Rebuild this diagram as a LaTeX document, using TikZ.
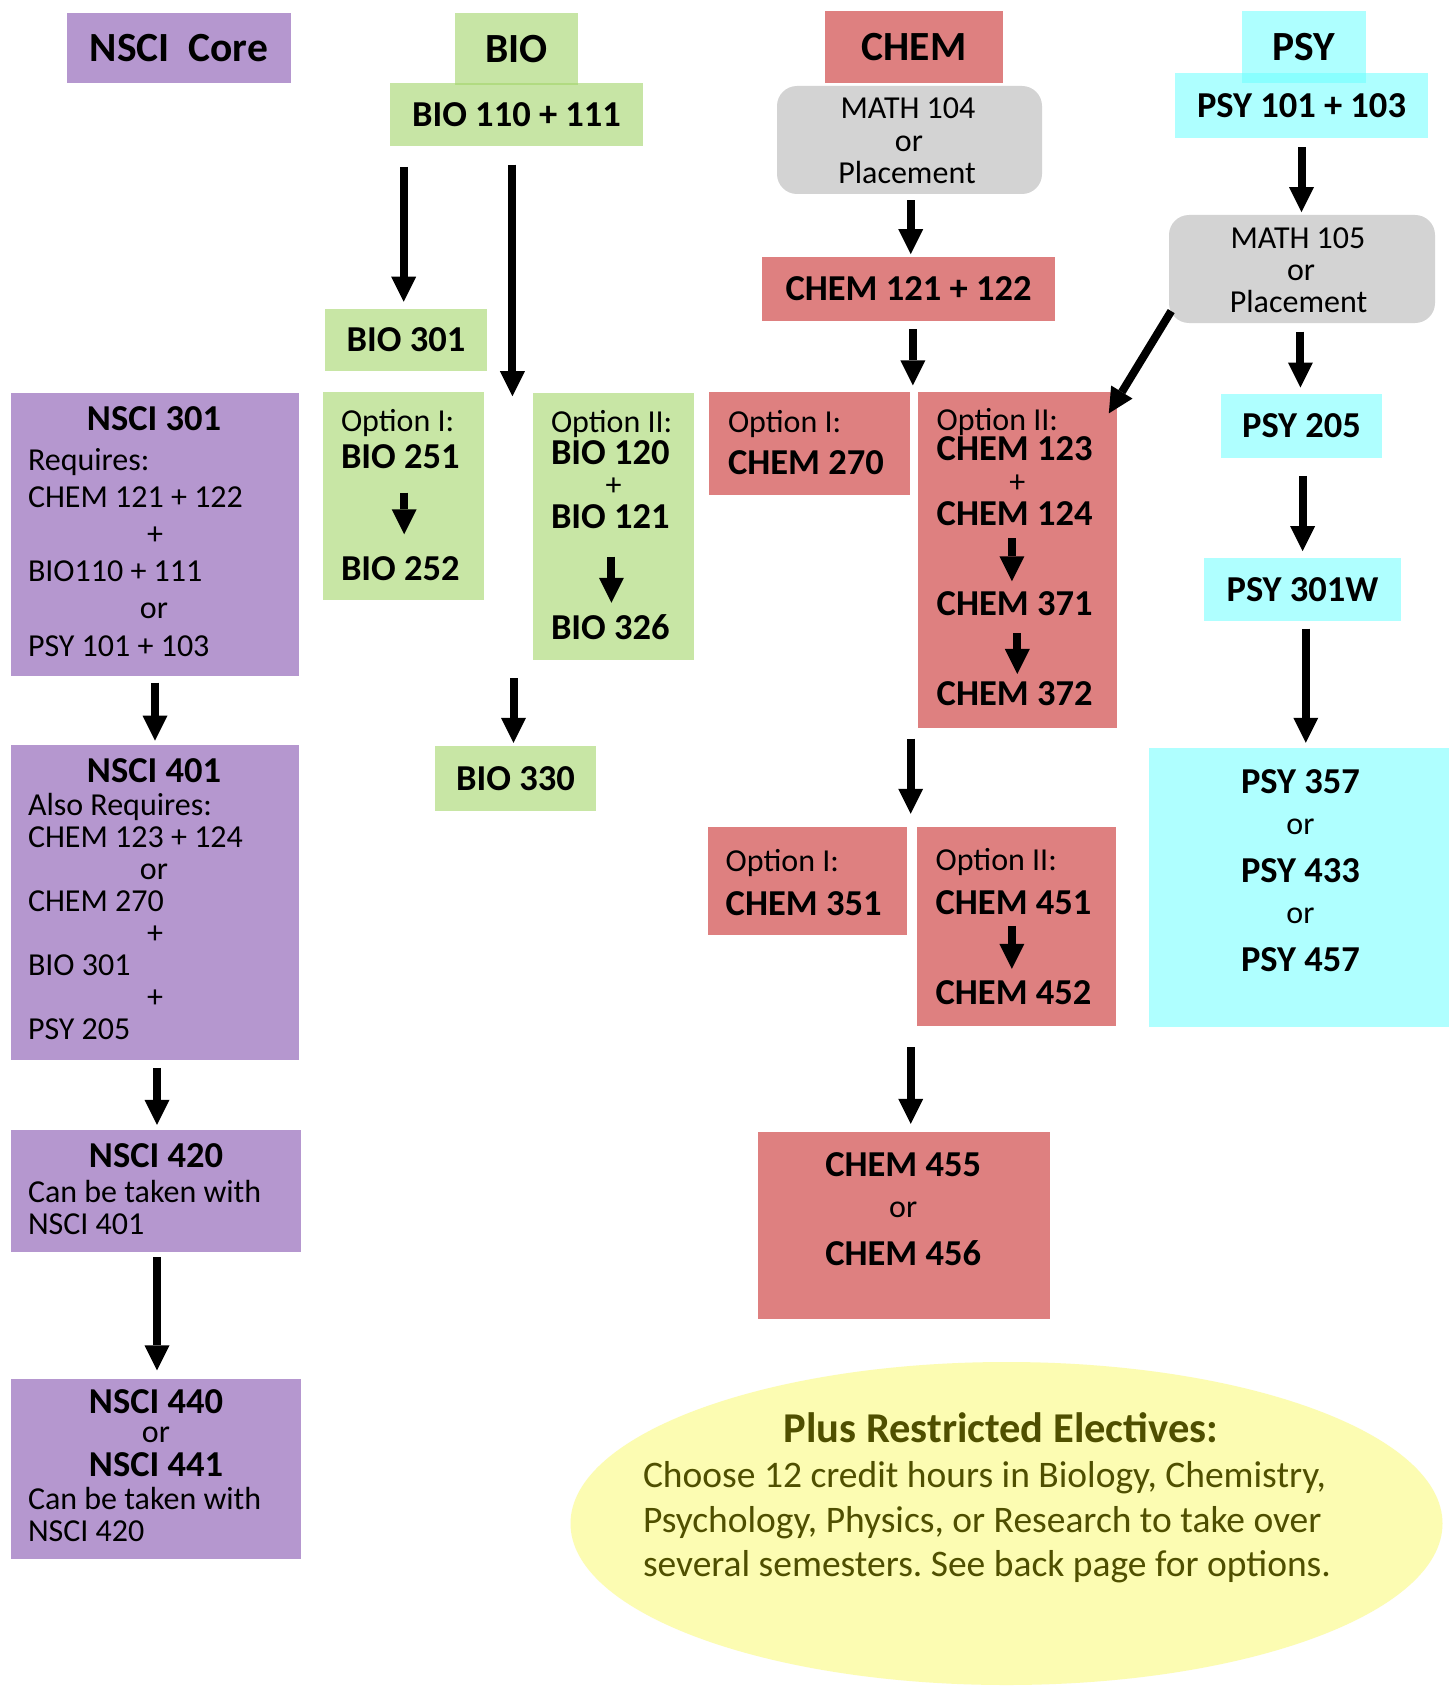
\documentclass[tikz,border=0pt]{standalone}
\usepackage{fontspec}
\setmainfont{Carlito}
\frenchspacing
\usetikzlibrary{arrows.meta,shapes.geometric}
\definecolor{nscicol}{RGB}{181,151,207}
\definecolor{biocol}{RGB}{200,230,165}
\definecolor{biobase}{RGB}{163,213,105}
\definecolor{chemcol}{RGB}{222,128,128}
\definecolor{psycol}{RGB}{175,255,255}
\definecolor{psybase}{RGB}{107,255,255}
\definecolor{mathgray}{RGB}{211,211,211}
\definecolor{ellicol}{RGB}{252,252,178}
\definecolor{olivetext}{RGB}{79,79,0}
\tikzset{
 box/.style={rectangle, inner sep=0pt, outer sep=0pt, anchor=north west},
 tb/.style={inner sep=0pt, outer sep=0pt, font=\fontsize{36.5}{40}\selectfont\bfseries},
 tr/.style={inner sep=0pt, outer sep=0pt, font=\fontsize{32}{36}\selectfont},
 th/.style={inner sep=0pt, outer sep=0pt, font=\fontsize{41.5}{45}\selectfont\bfseries},
 te/.style={inner sep=0pt, outer sep=0pt, text=olivetext, font=\fontsize{37.5}{41}\selectfont},
 lft/.style={anchor=base west},
 ctr/.style={anchor=base},
 arr/.style={line width=8pt, -{Triangle[width=25pt,length=25pt,line width=0pt]}},
}
\begin{document}
\begin{tikzpicture}[x=1pt,y=-1pt]
\fill[white] (0,0) rectangle (1449,1688);
\useasboundingbox (0,0) rectangle (1449,1688);

% ---------------- NSCI column ----------------
\node[box, fill=nscicol, minimum width=224pt, minimum height=70pt, th] (ncore) at (67,13) {NSCI~~Core};
\node[box, fill=nscicol, minimum width=288pt, minimum height=283pt] (n301) at (11,393) {};
\node[box, fill=nscicol, minimum width=288pt, minimum height=315pt] (n401) at (11,745) {};
\node[box, fill=nscicol, minimum width=290pt, minimum height=122pt] (n420) at (11,1130) {};
\node[box, fill=nscicol, minimum width=290pt, minimum height=180pt] (n440) at (11,1379) {};

\node[tb, ctr] (t301a) at (154,430.4) {NSCI 301};
\node[tr, lft] (t301b) at (28,470) {Requires:};
\node[tr, lft] (t301c) at (28,507.3) {CHEM 121 + 122};
\node[tr, ctr] (t301d) at (155,544.6) {+};
\node[tr, lft] (t301e) at (28,581.9) {BIO110 + 111};
\node[tr, ctr] (t301f) at (154,618) {or};
\node[tr, lft] (t301g) at (28,656.5) {PSY 101 + 103};

\node[tb, ctr] (t401a) at (154,782.4) {NSCI 401};
\node[tr, lft] (t401b) at (28,815.5) {Also Requires:};
\node[tr, lft] (t401c) at (28,847.5) {CHEM 123 + 124};
\node[tr, ctr] (t401d) at (154,879) {or};
\node[tr, lft] (t401e) at (28,911.5) {CHEM 270};
\node[tr, ctr] (t401f) at (155,943.5) {+};
\node[tr, lft] (t401g) at (28,975.5) {BIO 301};
\node[tr, ctr] (t401h) at (155,1007.5) {+};
\node[tr, lft] (t401i) at (28,1039.5) {PSY 205};

\node[tb, ctr] (t420a) at (156,1167.8) {NSCI 420};
\node[tr, lft] (t420b) at (28,1202) {Can be taken with};
\node[tr, lft] (t420c) at (28,1234.3) {NSCI 401};

\node[tb, ctr] (t440a) at (156,1413.2) {NSCI 440};
\node[tr, ctr] (t440b) at (156,1442.5) {or};
\node[tb, ctr] (t440c) at (156,1476.7) {NSCI 441};
\node[tr, lft] (t440d) at (28,1509.9) {Can be taken with};
\node[tr, lft] (t440e) at (28,1541.1) {NSCI 420};

% ---------------- BIO column ----------------
\node[box, fill=biobase, fill opacity=0.6, text opacity=1, minimum width=123pt, minimum height=72pt, th] (biohead) at (455,13) {BIO};
\node[box, fill=biobase, fill opacity=0.6, text opacity=1, minimum width=253pt, minimum height=63pt, tb] (bio110) at (390,83) {BIO 110 + 111};
\node[box, fill=biocol, minimum width=162pt, minimum height=62pt, tb] (bio301) at (325,309) {BIO 301};
\node[box, fill=biocol, minimum width=161pt, minimum height=208pt] (bioopt1) at (323,392) {};
\node[box, fill=biocol, minimum width=161pt, minimum height=267pt] (bioopt2) at (533,393) {};
\node[box, fill=biocol, minimum width=161pt, minimum height=65pt, tb] (bio330) at (435,746) {BIO 330};

\node[tr, lft] (bo1a) at (341,431.2) {Option I:};
\node[tb, lft] (b251) at (341,468) {BIO 251};
\node[tb, lft] (b252) at (341,580) {BIO 252};
\node[tr, lft] (bo2a) at (551,432.3) {Option II:};
\node[tb, lft] (b120) at (551,464.8) {BIO 120};
\node[tr, ctr] (bplus) at (613.6,495.5) {+};
\node[tb, lft] (b121) at (551,528.3) {BIO 121};
\node[tb, lft] (b326) at (551,639.2) {BIO 326};

% ---------------- CHEM column ----------------
\node[box, fill=chemcol, minimum width=178pt, minimum height=72pt, th] (chemhead) at (825,11) {CHEM};
\node[box, fill=mathgray, rounded corners=20pt, minimum width=265pt, minimum height=108pt] (math104) at (777,86) {};
\node[tr, ctr] (m104a) at (908,119) {MATH 104};
\node[tr, ctr] (m104b) at (909,151.3) {or};
\node[tr, ctr] (m104c) at (907,183.6) {Placement};
\node[box, fill=chemcol, minimum width=293pt, minimum height=64pt, tb] (chem121) at (762,257) {CHEM 121 + 122};
\node[box, fill=chemcol, minimum width=201pt, minimum height=103pt] (chemopt1) at (709,392) {};
\node[box, fill=chemcol, minimum width=199pt, minimum height=336pt] (chemopt2) at (918,392) {};
\node[box, fill=chemcol, minimum width=199pt, minimum height=108pt] (chem351) at (708,827) {};
\node[box, fill=chemcol, minimum width=199pt, minimum height=199pt] (chem451) at (917,827) {};
\node[box, fill=chemcol, minimum width=292pt, minimum height=187pt] (chem455) at (758,1132) {};

\node[tr, lft] (co1a) at (728,432.3) {Option I:};
\node[tb, lft] (c270) at (728,474.5) {CHEM 270};
\node[tr, lft] (co2a) at (936.7,430.1) {Option II:};
\node[tb, lft] (c123) at (936.7,460.5) {CHEM 123};
\node[tr, ctr] (cplus) at (1017.3,492.3) {+};
\node[tb, lft] (c124) at (936.7,525.1) {CHEM 124};
\node[tb, lft] (c371) at (936.7,615.5) {CHEM 371};
\node[tb, lft] (c372) at (936.7,705.9) {CHEM 372};
\node[tr, lft] (co3a) at (725.7,871.5) {Option I:};
\node[tb, lft] (c351) at (725.7,915.9) {CHEM 351};
\node[tr, lft] (co4a) at (935.6,870.4) {Option II:};
\node[tb, lft] (c451) at (935.6,914.8) {CHEM 451};
\node[tb, lft] (c452) at (935.6,1004.1) {CHEM 452};
\node[tb, ctr] (c455) at (903.2,1176.4) {CHEM 455};
\node[tr, ctr] (c455or) at (903.2,1217.5) {or};
\node[tb, ctr] (c456) at (903.2,1265.7) {CHEM 456};

% ---------------- PSY column ----------------
\node[box, fill=psybase, fill opacity=0.54, text opacity=1, minimum width=124pt, minimum height=72pt, th] (psyhead) at (1242,11) {PSY};
\node[box, fill=psybase, fill opacity=0.54, text opacity=1, minimum width=253pt, minimum height=65pt, tb] (psy101) at (1175,73) {PSY 101 + 103};
\node[box, fill=mathgray, rounded corners=20pt, minimum width=266pt, minimum height=108pt] (math105) at (1169,215) {};
\node[tr, ctr] (m105a) at (1298,248.2) {MATH 105};
\node[tr, ctr] (m105b) at (1301,280.5) {or};
\node[tr, ctr] (m105c) at (1298.5,312.8) {Placement};
\node[box, fill=psycol, minimum width=161pt, minimum height=64pt, tb] (psy205) at (1221,394) {PSY 205};
\node[box, fill=psycol, minimum width=197pt, minimum height=63pt, tb] (psy301w) at (1204,558) {PSY 301W};
\node[box, fill=psycol, minimum width=300pt, minimum height=279pt] (psy357) at (1149,748) {};
\node[tb, ctr] (p357) at (1300.4,793.1) {PSY 357};
\node[tr, ctr] (por1) at (1300.4,834.3) {or};
\node[tb, ctr] (p433) at (1300.4,882.5) {PSY 433};
\node[tr, ctr] (por2) at (1300.4,923.6) {or};
\node[tb, ctr] (p457) at (1300.4,971.8) {PSY 457};

% ---------------- Electives ellipse ----------------
\node[ellipse, fill=ellicol, minimum width=872pt, minimum height=323pt, inner sep=0pt] (elec) at (1006.5,1523.5) {};
\node[inner sep=0pt, ctr, text=olivetext, font=\fontsize{42.5}{46}\selectfont\bfseries] (electitle) at (1001,1442.8) {Plus Restricted Electives:};
\node[te, lft] (el1) at (643,1487.5) {Choose 12 credit hours in Biology, Chemistry,};
\node[te, lft] (el2) at (643,1532.7) {Psychology, Physics, or Research to take over};
\node[te, lft] (el3) at (643,1576.8) {several semesters. See back page for options.};

% ---------------- Arrows ----------------
\draw[arr] ([yshift=-6.5pt]n301.south) -- ([yshift=4.4pt]n401.north);
\draw[arr] ([xshift=2pt,yshift=-7.9pt]n401.south) -- ([xshift=1pt,yshift=5.1pt]n420.north);
\draw[arr] ([xshift=1pt,yshift=-5.4pt]n420.south) -- ([xshift=1pt,yshift=8.6pt]n440.north);

\draw[arr] ([xshift=-112.8pt,yshift=-20.9pt]bio110.south) -- ([xshift=-2.3pt,yshift=7.3pt]bio301.north);
\draw[arr] ([xshift=-4.1pt,yshift=-18.7pt]bio110.south) -- ([xshift=-20.6pt,yshift=-3.2pt]bioopt2.north west);
\draw[arr] ([xshift=3.9pt,yshift=-24.7pt]b251.base) -- ([xshift=3.9pt,yshift=45.7pt]b252.base);
\draw[arr] ([xshift=1.1pt,yshift=-28.3pt]b121.base) -- ([xshift=1.1pt,yshift=36.4pt]b326.base);
\draw[arr] ([xshift=-19.5pt,yshift=-18.2pt]bioopt2.south west) -- ([xshift=-2pt,yshift=3.2pt]bio330.north);

\draw[arr] ([xshift=1.2pt,yshift=-6.2pt]math104.south) -- ([xshift=2.2pt,yshift=2.9pt]chem121.north);
\draw[arr] ([xshift=4.4pt,yshift=-8.4pt]chem121.south) -- ([xshift=2.9pt,yshift=6.6pt]chemopt1.north east);
\draw[arr] ([xshift=2.2pt,yshift=11.9pt]math105.south west) -- ([xshift=-8.2pt,yshift=-21.4pt]chemopt2.north east);
\draw[arr] ([xshift=-2.7pt,yshift=-13.2pt]c124.base) -- ([xshift=-2.7pt,yshift=34.2pt]c371.base);
\draw[arr] ([xshift=2.7pt,yshift=-17.5pt]c371.base) -- ([xshift=2.7pt,yshift=32pt]c372.base);
\draw[arr] ([xshift=-7.3pt,yshift=-10.5pt]chemopt2.south west) -- ([xshift=3.7pt,yshift=13.2pt]chem351.north east);
\draw[arr] ([xshift=-1.6pt,yshift=-11pt]c451.base) -- ([xshift=-1.6pt,yshift=35.2pt]c452.base);
\draw[arr] ([xshift=-6.3pt,yshift=-21.4pt]chem451.south west) -- ([xshift=6.7pt,yshift=8.1pt]chem455.north);

\draw[arr] ([yshift=-9.5pt]psy101.south) -- ([xshift=-0.5pt,yshift=2.9pt]math105.north);
\draw[arr] ([xshift=-1.6pt,yshift=-8.6pt]math105.south) -- ([xshift=-1.1pt,yshift=6.5pt]psy205.north);
\draw[arr] ([xshift=1.1pt,yshift=-17.8pt]psy205.south) -- ([xshift=0.1pt,yshift=6.8pt]psy301w.north);
\draw[arr] ([xshift=3.3pt,yshift=-7.7pt]psy301w.south) -- ([xshift=6.8pt,yshift=5.2pt]psy357.north);
\end{tikzpicture}
\end{document}
